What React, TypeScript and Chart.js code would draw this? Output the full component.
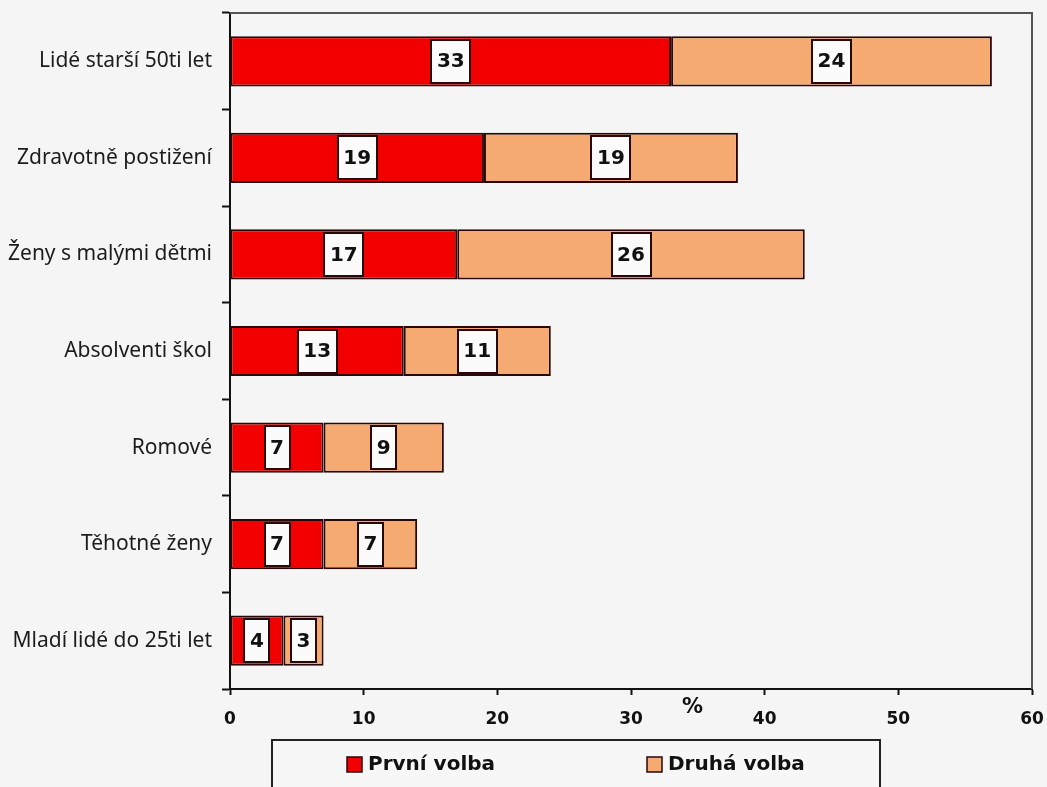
import React, { useEffect, useRef } from "react";
import { Chart, registerables } from "chart.js";

Chart.register(...registerables);

// Groups and the share (%) naming them as first / second choice
const categories = [
  "Lidé starší 50ti let",
  "Zdravotně postižení",
  "Ženy s malými dětmi",
  "Absolventi škol",
  "Romové",
  "Těhotné ženy",
  "Mladí lidé do 25ti let",
];
const prvniVolba = [33, 19, 17, 13, 7, 7, 4];
const druhaVolba = [24, 19, 26, 11, 9, 7, 3];
const seriesNames = ["První volba", "Druhá volba"];
const seriesColors = ["#F20000", "#F5AA72"];
const xMin = 0;
const xMax = 60;
const xStep = 10;
const unitLabel = "%";

const INK = "#2a0808";

// White value boxes centred on each stacked segment
const valueBoxes = {
  id: "valueBoxes",
  afterDatasetsDraw(chart: any) {
    const ctx = chart.ctx;
    ctx.save();
    ctx.font = 'bold 20px "DejaVu Sans"';
    chart.data.datasets.forEach((ds: any, di: number) => {
      const meta = chart.getDatasetMeta(di);
      meta.data.forEach((bar: any, i: number) => {
        const v = ds.data[i];
        const p = bar.getProps(["x", "y", "base", "height"], true);
        const cx = (p.x + p.base) / 2;
        const text = String(v);
        const tw = ctx.measureText(text).width;
        const w = Math.round(tw + 11);
        const h = Math.round(p.height - 7);
        const left = Math.round(cx - w / 2);
        const top = Math.round(p.y - h / 2);
        ctx.fillStyle = "#fbfbfb";
        ctx.fillRect(left, top, w, h);
        ctx.strokeStyle = INK;
        ctx.lineWidth = 2;
        ctx.strokeRect(left, top, w, h);
        ctx.fillStyle = "#111";
        ctx.textAlign = "center";
        ctx.textBaseline = "middle";
        ctx.fillText(text, cx, p.y + 1);
      });
    });
    ctx.restore();
  },
};

// Grey frame on the top and right of the plot, the unit sign and the boxed legend
const frameAndLegend = {
  id: "frameAndLegend",
  afterDraw(chart: any) {
    const ctx = chart.ctx;
    const a = chart.chartArea;
    ctx.save();
    ctx.strokeStyle = "#555";
    ctx.lineWidth = 2;
    ctx.beginPath();
    ctx.moveTo(a.left, a.top);
    ctx.lineTo(a.right, a.top);
    ctx.lineTo(a.right, a.bottom);
    ctx.stroke();

    // unit sign between the 30 and 40 ticks
    const xs = chart.scales.x;
    ctx.fillStyle = "#111";
    ctx.font = 'bold 21px "DejaVu Sans"';
    ctx.textAlign = "center";
    ctx.textBaseline = "middle";
    ctx.fillText(unitLabel, xs.getPixelForValue(34.6), a.bottom + 19);

    // legend box, running off the bottom edge
    const lx = 272;
    const ly = 740;
    const lw = 608;
    ctx.fillStyle = "#f7f7f7";
    ctx.fillRect(lx, ly, lw, 80);
    ctx.strokeStyle = "#222";
    ctx.lineWidth = 2;
    ctx.strokeRect(lx, ly, lw, 80);

    const itemX = [lx + 75, lx + 375];
    ctx.font = 'bold 20px "DejaVu Sans"';
    ctx.textAlign = "left";
    ctx.textBaseline = "middle";
    chart.data.datasets.forEach((ds: any, di: number) => {
      const sx = itemX[di];
      const sy = ly + 17;
      ctx.fillStyle = ds.backgroundColor;
      ctx.fillRect(sx, sy, 15, 15);
      ctx.strokeStyle = INK;
      ctx.lineWidth = 1.5;
      ctx.strokeRect(sx, sy, 15, 15);
      ctx.fillStyle = "#111";
      ctx.fillText(ds.label, sx + 21, sy + 8);
    });
    ctx.restore();
  },
};

export default function App() {
  const canvasRef = useRef<HTMLCanvasElement | null>(null);

  useEffect(() => {
    const canvas = canvasRef.current;
    if (!canvas) return;
    const chart = new Chart(canvas, {
      type: "bar",
      data: {
        labels: categories,
        datasets: [
          {
            label: seriesNames[0],
            data: prvniVolba,
            backgroundColor: seriesColors[0],
            borderColor: INK,
            borderWidth: 2,
            borderSkipped: false,
          },
          {
            label: seriesNames[1],
            data: druhaVolba,
            backgroundColor: seriesColors[1],
            borderColor: INK,
            borderWidth: 2,
            borderSkipped: false,
          },
        ],
      },
      options: {
        indexAxis: "y",
        responsive: false,
        animation: false,
        events: [],
        layout: { padding: { left: 0, top: 13, right: 15, bottom: 0 } },
        datasets: {
          bar: { barPercentage: 0.52, categoryPercentage: 1 },
        },
        plugins: {
          legend: { display: false },
          tooltip: { enabled: false },
        },
        scales: {
          x: {
            type: "linear",
            stacked: true,
            min: xMin,
            max: xMax,
            ticks: {
              stepSize: xStep,
              color: "#111",
              padding: 14,
              font: { family: "DejaVu Sans", size: 17, weight: "bold" },
            },
            grid: {
              drawOnChartArea: false,
              drawTicks: true,
              tickLength: 6,
              tickColor: "#111",
              tickWidth: 2,
            },
            border: { display: true, color: "#111", width: 2 },
            afterFit(scale: any) {
              scale.height = 98;
              scale.paddingLeft = 0;
              scale.paddingRight = 0;
            },
          },
          y: {
            type: "category",
            stacked: true,
            ticks: {
              color: "#1c1c1c",
              padding: 10,
              font: { family: "Noto Sans", size: 21 },
            },
            grid: {
              offset: true,
              drawOnChartArea: false,
              drawTicks: true,
              tickLength: 8,
              tickColor: "#111",
              tickWidth: 2,
            },
            border: { display: true, color: "#111", width: 2 },
            afterFit(scale: any) {
              scale.width = 230;
              scale.paddingTop = 0;
              scale.paddingBottom = 0;
            },
          },
        },
      },
      plugins: [valueBoxes, frameAndLegend],
    });
    return () => chart.destroy();
  }, []);

  return (
    <div
      style={{
        position: "fixed",
        left: 0,
        top: 0,
        width: 1047,
        height: 787,
        background: "#f5f5f5",
        overflow: "hidden",
      }}
    >
      <canvas ref={canvasRef} width={1047} height={787} />
    </div>
  );
}
